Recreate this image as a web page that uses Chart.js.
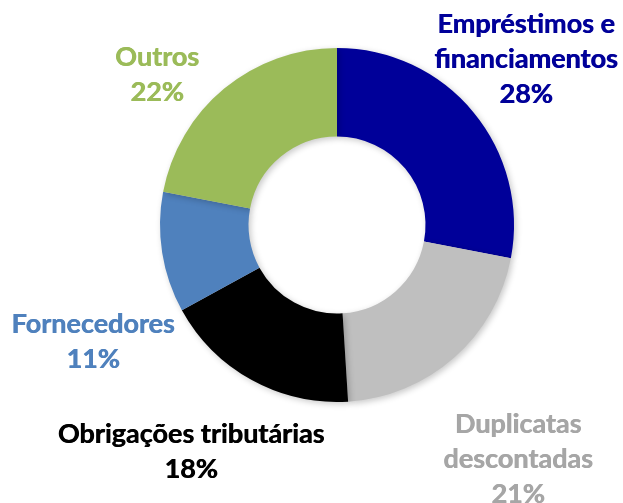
<!DOCTYPE html>
<html>
<head>
<meta charset="utf-8">
<script src="https://cdn.jsdelivr.net/npm/chart.js@4"></script>
<style>
  html, body { margin: 0; padding: 0; background: #fff; }
  #wrap { width: 623px; height: 503px; position: relative; }
</style>
</head>
<body>
<div id="wrap"><canvas id="chart"></canvas></div>
<script>
const categories = ['Empréstimos e financiamentos', 'Duplicatas descontadas', 'Obrigações tributárias', 'Fornecedores', 'Outros'];
const shares = [28, 21, 18, 11, 22];
const sliceColors = ['#000099', '#BFBFBF', '#000000', '#4F81BD', '#9BBB59'];
const labelColors = ['#000099', '#A6A6A6', '#000000', '#4F81BD', '#9BBB59'];
// label lines (category split as in the picture)
const labelLines = [
  ['Empréstimos e', 'financiamentos'],
  ['Duplicatas', 'descontadas'],
  ['Obrigações tributárias'],
  ['Fornecedores'],
  ['Outros']
];
// anchor of the first text line (centre x, middle y)
const labelAnchors = [
  [526, 24], [518, 424], [191, 434], [93, 324], [157, 57]
];

const outsideLabels = {
  id: 'outsideLabels',
  afterDraw(chart) {
    const ctx = chart.ctx;
    ctx.save();
    ctx.font = 'bold 27px Lato, "Open Sans", sans-serif';
    ctx.textAlign = 'center';
    ctx.textBaseline = 'middle';
    const lh = 35;
    labelLines.forEach((lines, i) => {
      const [x, y] = labelAnchors[i];
      ctx.fillStyle = labelColors[i];
      const all = lines.concat([shares[i] + '%']);
      all.forEach((t, k) => {
        ctx.fillText(t, x, y + k * lh);
        ctx.fillText(t, x + 0.6, y + k * lh); // a bit heavier, like the original
      });
    });
    ctx.restore();
  }
};

const softShadow = {
  id: 'softShadow',
  beforeDatasetsDraw(chart) {
    const ctx = chart.ctx;
    ctx.save();
    ctx.shadowColor = 'rgba(0,0,0,0.22)';
    ctx.shadowBlur = 6;
    ctx.shadowOffsetX = 2;
    ctx.shadowOffsetY = 2;
  },
  afterDatasetsDraw(chart) {
    chart.ctx.restore();
  }
};

new Chart(document.getElementById('chart'), {
  type: 'doughnut',
  data: {
    labels: categories,
    datasets: [{
      data: shares,
      backgroundColor: sliceColors,
      borderWidth: 0,
      hoverOffset: 0
    }]
  },
  options: {
    responsive: true,
    maintainAspectRatio: false,
    animation: false,
    cutout: '50%',
    rotation: 0,
    layout: { padding: { top: 48, bottom: 101, left: 160, right: 109 } },
    plugins: {
      legend: { display: false },
      tooltip: { enabled: false }
    }
  },
  plugins: [softShadow, outsideLabels]
});
</script>
</body>
</html>
